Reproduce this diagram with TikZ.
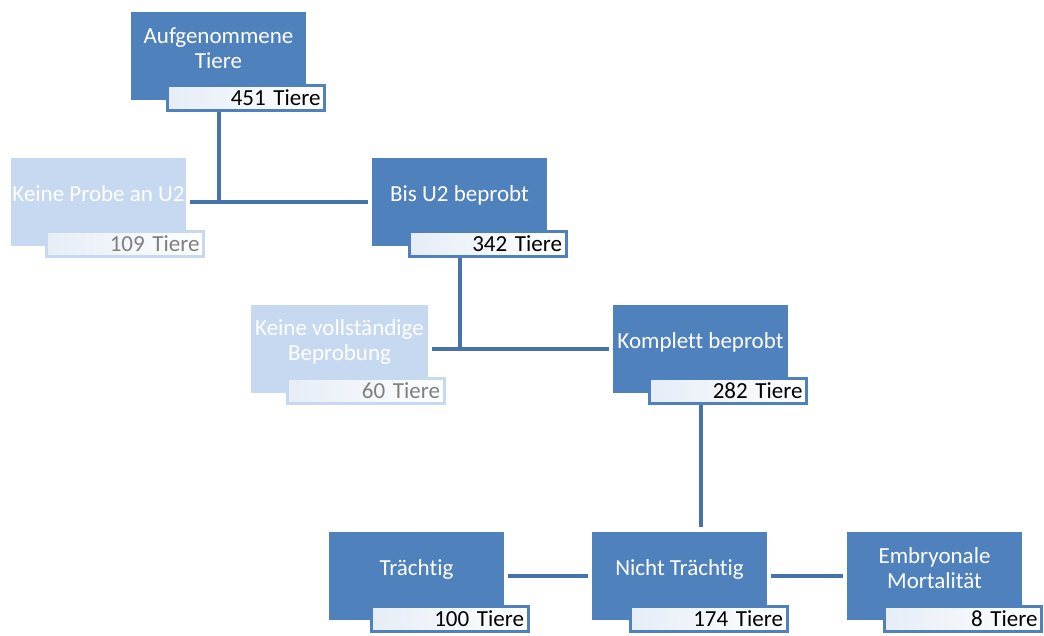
\documentclass[tikz,border=0pt]{standalone}
\usepackage{fontspec}
\setmainfont[RawFeature={-liga;-dlig}]{Carlito}
\definecolor{dblue}{HTML}{4F81BD}
\definecolor{lblue}{HTML}{C6D9F1}
\definecolor{lineblue}{HTML}{4673AB}
\definecolor{pale}{HTML}{E6EDF6}
\definecolor{greytext}{HTML}{7F7F7F}
\begin{document}
\begin{tikzpicture}[x=1pt,y=-1pt,
  font=\fontsize{23}{25}\selectfont,
  box/.style={rectangle, minimum width=175pt, minimum height=88pt, inner sep=0pt,
    align=center, text depth=16pt, text=white},
  dbox/.style={box, fill=dblue},
  lbox/.style={box, fill=lblue},
  tag/.style={rectangle, minimum width=157pt, minimum height=25pt, inner ysep=0pt,
    inner xsep=4pt, text width=149pt, align=right, line width=3pt,
    left color=pale, middle color=white, right color=white},
  dtag/.style={tag, draw=dblue, text=black},
  ltag/.style={tag, draw=lblue, text=greytext},
  conn/.style={draw=lineblue, line width=4pt},
  gap/.style={shorten <=4pt, shorten >=4pt}]
\useasboundingbox (0,0) rectangle (1044,635);
% boxes
\node[dbox] (b1) at (218.5,56) {Aufgenommene\\Tiere};
\node[dtag] (l1) at (246,98) {451 Tiere};
\node[lbox] (b2) at (98.5,202) {Keine Probe an U2};
\node[ltag] (l2) at (125,244) {109 Tiere};
\node[dbox] (b3) at (459.5,202) {Bis U2 beprobt};
\node[dtag] (l3) at (487.5,244) {342 Tiere};
\node[lbox, minimum width=177pt] (b4) at (339.5,348.5) {Keine vollständige\\Beprobung};
\node[ltag] (l4) at (365.5,390.5) {60 Tiere};
\node[dbox] (b5) at (700.5,348.5) {Komplett beprobt};
\node[dtag] (l5) at (728,390.5) {282 Tiere};
\node[dbox] (b6) at (416.5,576) {Trächtig};
\node[dtag] (l6) at (449.5,619) {100 Tiere};
\node[dbox] (b7) at (679.5,576) {Nicht Trächtig};
\node[dtag] (l7) at (708.5,619) {174 Tiere};
\node[dbox] (b8) at (934.5,576) {Embryonale\\Mortalität};
\node[dtag] (l8) at (963,619) {8 Tiere};
% connectors
\draw[conn] (b1.center |- l1.south) -- (b1.center |- b2.east);
\draw[conn, gap] (b2.east) -- (b3.west);
\draw[conn] (b3.center |- l3.south) -- (b3.center |- b4.east);
\draw[conn, gap] (b4.east) -- (b5.west);
\draw[conn, shorten >=5pt] (b5.center |- l5.south) -- (b5.center |- b7.north);
\draw[conn, gap] (b6.east) -- (b7.west);
\draw[conn, gap] (b7.east) -- (b8.west);
\end{tikzpicture}
\end{document}
